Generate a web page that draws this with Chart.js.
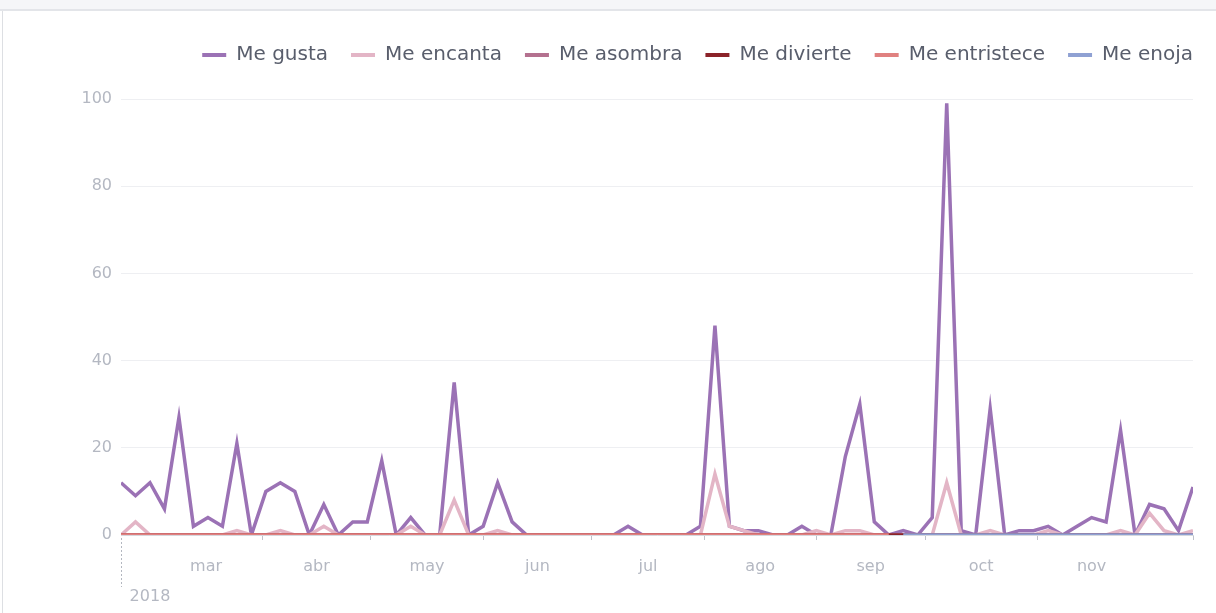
<!DOCTYPE html>
<html lang="es">
<head>
<meta charset="utf-8">
<script src="https://cdn.jsdelivr.net/npm/chart.js@4.4.1/dist/chart.umd.min.js"></script>
<style>
  html, body { margin: 0; padding: 0; background: #fff; }
  body { width: 1216px; height: 613px; position: relative; overflow: hidden; }
  .franja { position: absolute; left: 0; top: 0; width: 1216px; height: 9px; background: #f5f6f8; border-bottom: 2px solid #e3e5e9; }
  .borde { position: absolute; left: 2px; top: 11px; width: 1px; height: 602px; background: #dddfe3; }
  canvas { position: absolute; left: 0; top: 0; }
</style>
</head>
<body>
<div class="franja"></div>
<div class="borde"></div>
<canvas id="reacciones" width="1216" height="613"></canvas>
<script>
// un punto cada 4 dias, desde el 21 de febrero de 2018 (dia 52 del año)
const primerDia = 52;
const pasoDias = 4;

const gusta = [12, 9, 12, 6, 27, 2, 4, 2, 21, 0,
  10, 12, 10, 0, 7, 0, 3, 3, 17, 0,
  4, 0, 0, 35, 0, 2, 12, 3, 0, 0,
  0, 0, 0, 0, 0, 2, 0, 0, 0, 0,
  2, 48, 2, 1, 1, 0, 0, 2, 0, 0,
  18, 30, 3, 0, 1, 0, 4, 99, 1, 0,
  29, 0, 1, 1, 2, 0, 2, 4, 3, 24,
  0, 7, 6, 1, 11];
const encanta = [0, 3, 0, 0, 0, 0, 0, 0, 1, 0,
  0, 1, 0, 0, 2, 0, 0, 0, 0, 0,
  2, 0, 0, 8, 0, 0, 1, 0, 0, 0,
  0, 0, 0, 0, 0, 0, 0, 0, 0, 0,
  0, 14, 2, 1, 0, 0, 0, 0, 1, 0,
  1, 1, 0, 0, 0, 0, 0, 12, 0, 0,
  1, 0, 0, 0, 1, 0, 0, 0, 0, 1,
  0, 5, 1, 0, 1];
const asombra = [0, 0, 0, 0, 0, 0, 0, 0, 0, 0,
  0, 0, 0, 0, 0, 0, 0, 0, 0, 0,
  0, 0, 0, 0, 0, 0, 0, 0, 0, 0,
  0, 0, 0, 0, 0, 0, 0, 0, 0, 0,
  0, 0, 0, 0, 0, 0, 0, 0, 0, 0,
  0, 0, 0, 0, 0, 0, 0, 0, 0, 0,
  0, 0, 0, 0, 0, 0, 0, 0, 0, 0,
  0, 0, 0, 0, 0];
const divierte = [0, 0, 0, 0, 0, 0, 0, 0, 0, 0,
  0, 0, 0, 0, 0, 0, 0, 0, 0, 0,
  0, 0, 0, 0, 0, 0, 0, 0, 0, 0,
  0, 0, 0, 0, 0, 0, 0, 0, 0, 0,
  0, 0, 0, 0, 0, 0, 0, 0, 0, 0,
  0, 0, 0, 0, 0, 0, 0, 0, 0, 0,
  0, 0, 0, 0, 0, 0, 0, 0, 0, 0,
  0, 0, 0, 0, 0];
const entristece = [0, 0, 0, 0, 0, 0, 0, 0, 0, 0,
  0, 0, 0, 0, 0, 0, 0, 0, 0, 0,
  0, 0, 0, 0, 0, 0, 0, 0, 0, 0,
  0, 0, 0, 0, 0, 0, 0, 0, 0, 0,
  0, 0, 0, 0, 0, 0, 0, 0, 0, 0,
  0, 0, 0, 0, null, null, null, null, null, null,
  null, null, null, null, null, null, null, null, null, null,
  null, null, null, null, null];
const enoja = [null, null, null, null, null, null, null, null, null, null,
  null, null, null, null, null, null, null, null, null, null,
  null, null, null, null, null, null, null, null, null, null,
  null, null, null, null, null, null, null, null, null, null,
  null, null, null, null, null, null, null, null, null, null,
  null, null, null, null, 0, 0, 0, 0, 0, 0,
  0, 0, 0, 0, 0, 0, 0, 0, 0, 0,
  0, 0, 0, 0, 0];

const dias = gusta.map((_, i) => primerDia + pasoDias * i);

// eje x: marcas en el cambio de mes, nombres centrados en cada mes
const marcasMes = [91, 121, 152, 182, 213, 244, 274, 305, 348];
const meses = ['mar', 'abr', 'may', 'jun', 'jul', 'ago', 'sep', 'oct', 'nov'];
const centrosMes = [75.5, 106, 136.5, 167, 197.5, 228.5, 259, 289.5, 320];
const anio = '2018';
const diaAnio = 60;

const yTicks = [0, 20, 40, 60, 80, 100];

Chart.defaults.font.family = "'DejaVu Sans', sans-serif";

const serie = (label, data, color, order) => ({
  label: label,
  data: data,
  borderColor: color,
  backgroundColor: color,
  borderWidth: 3.5,
  pointRadius: 0,
  tension: 0,
  fill: false,
  order: order
});

const lineaInicio = {
  id: 'lineaInicio',
  afterDraw(chart) {
    const ctx = chart.ctx;
    const x = Math.round(chart.scales.x.getPixelForValue(dias[0])) + 0.5;
    const y0 = chart.chartArea.bottom + 3;
    ctx.save();
    ctx.strokeStyle = '#b3b7c0';
    ctx.lineWidth = 1;
    ctx.setLineDash([2, 2]);
    ctx.beginPath();
    ctx.moveTo(x, y0);
    ctx.lineTo(x, y0 + 49);
    ctx.stroke();
    ctx.restore();
  }
};

new Chart(document.getElementById('reacciones'), {
  type: 'line',
  data: {
    labels: dias,
    datasets: [
      serie('Me gusta', gusta, '#9b72b5', 6),
      serie('Me encanta', encanta, '#e3b5c6', 5),
      serie('Me asombra', asombra, '#b4718f', 4),
      serie('Me divierte', divierte, '#8b2329', 3),
      serie('Me entristece', entristece, '#e08180', 2),
      serie('Me enoja', enoja, '#8fa1d3', 1)
    ]
  },
  options: {
    responsive: false,
    animation: false,
    layout: { padding: { top: 22, left: 0, right: 0, bottom: 0 } },
    scales: {
      x: {
        type: 'linear',
        position: 'bottom',
        min: dias[0],
        max: dias[dias.length - 1],
        afterBuildTicks(scale) {
          const vals = marcasMes.concat(centrosMes, [diaAnio]).sort((a, b) => a - b);
          scale.ticks = vals.map(v => ({ value: v }));
        },
        afterFit(scale) { scale.height = 78; },
        ticks: {
          autoSkip: false,
          maxRotation: 0,
          color: '#b4b8c2',
          padding: 12,
          font: { size: 16, lineHeight: 1.875 },
          callback(value) {
            const i = centrosMes.indexOf(value);
            if (i >= 0) return meses[i];
            if (value === diaAnio) return ['', anio];
            return '';
          }
        },
        grid: {
          drawOnChartArea: false,
          tickLength: 5,
          tickColor: (c) => (c.tick && marcasMes.includes(c.tick.value)) ? '#bfc2ca' : 'rgba(0,0,0,0)'
        },
        border: { display: true, color: '#d5d8de' }
      },
      xArriba: {
        type: 'linear',
        axis: 'x',
        position: 'top',
        ticks: { display: false },
        grid: { display: false },
        border: { display: false },
        afterFit(scale) { scale.height = 24; }
      },
      y: {
        min: 0,
        max: 100,
        afterBuildTicks(scale) {
          scale.ticks = yTicks.map(v => ({ value: v }));
        },
        afterFit(scale) { scale.width = 121; },
        ticks: {
          color: '#b4b8c2',
          padding: 9,
          font: { size: 16 }
        },
        grid: { color: '#eeeff2', drawTicks: false },
        border: { display: false }
      },
      yDerecha: {
        type: 'linear',
        axis: 'y',
        position: 'right',
        ticks: { display: false },
        grid: { display: false },
        border: { display: false },
        afterFit(scale) { scale.width = 23; }
      }
    },
    plugins: {
      legend: {
        position: 'top',
        align: 'end',
        labels: {
          color: '#595e6c',
          font: { size: 20 },
          boxWidth: 24,
          boxHeight: 4,
          padding: 23,
          sort: (a, b) => a.datasetIndex - b.datasetIndex,
          generateLabels(chart) {
            const items = Chart.defaults.plugins.legend.labels.generateLabels(chart);
            return items.map(it => Object.assign(it, { lineWidth: 0, fillStyle: it.strokeStyle }));
          }
        }
      },
      tooltip: { enabled: false }
    }
  },
  plugins: [lineaInicio]
});
</script>
</body>
</html>
